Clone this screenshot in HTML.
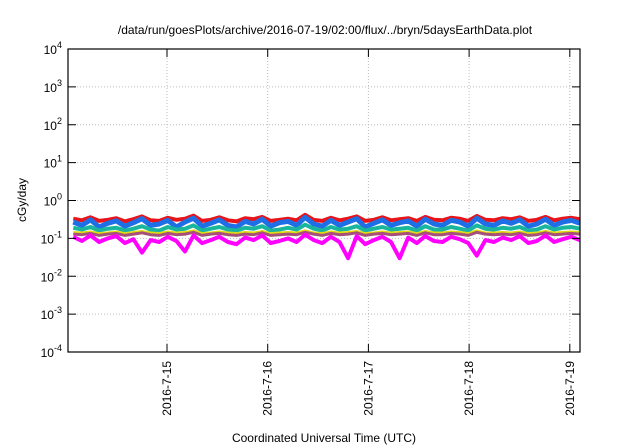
<!DOCTYPE html>
<html><head><meta charset="utf-8"><style>
body{margin:0;background:#fff;}
svg{display:block;font-family:"Liberation Sans",sans-serif;}
</style></head><body>
<svg id="chart" width="640" height="448" viewBox="0 0 640 448">
<rect width="640" height="448" fill="#fff"/>
<text x="325" y="34" font-size="12" text-anchor="middle">/data/run/goesPlots/archive/2016-07-19/02:00/flux/../bryn/5daysEarthData.plot</text>
<g id="grid"></g><g id="series"></g><g id="axes"></g>
<text transform="translate(26,200) rotate(-90)" font-size="12" text-anchor="middle">cGy/day</text>
<text x="324" y="442" font-size="12" text-anchor="middle">Coordinated Universal Time (UTC)</text>
</svg>
<script>
const xTicks=[15,16,17,18,19];
const xTickLabels=["2016-7-15","2016-7-16","2016-7-17","2016-7-18","2016-7-19"];
const yExps=[-4,-3,-2,-1,0,1,2,3,4];
const tStart=14.07, tEnd=19.1;
const red=[0.33,0.30,0.36,0.29,0.31,0.34,0.28,0.32,0.38,0.30,0.29,0.35,0.31,0.33,0.40,0.29,0.31,0.36,0.30,0.28,0.34,0.32,0.37,0.29,0.31,0.33,0.30,0.42,0.31,0.29,0.35,0.30,0.33,0.38,0.29,0.31,0.36,0.30,0.32,0.34,0.29,0.37,0.31,0.30,0.35,0.33,0.29,0.39,0.31,0.30,0.34,0.32,0.36,0.29,0.31,0.37,0.30,0.33,0.35,0.32];
const blue=[0.27,0.22,0.31,0.20,0.25,0.29,0.21,0.26,0.33,0.22,0.24,0.30,0.20,0.27,0.34,0.21,0.25,0.31,0.22,0.20,0.28,0.24,0.32,0.21,0.26,0.28,0.22,0.36,0.24,0.21,0.30,0.22,0.27,0.33,0.20,0.25,0.31,0.22,0.26,0.29,0.21,0.32,0.24,0.22,0.30,0.27,0.21,0.34,0.24,0.22,0.29,0.25,0.31,0.21,0.24,0.32,0.22,0.27,0.30,0.25];
const teal=[0.19,0.17,0.20,0.16,0.18,0.19,0.16,0.18,0.21,0.17,0.16,0.20,0.17,0.18,0.22,0.16,0.18,0.20,0.17,0.16,0.19,0.18,0.21,0.16,0.17,0.19,0.17,0.23,0.18,0.16,0.20,0.17,0.18,0.21,0.16,0.18,0.20,0.17,0.18,0.19,0.16,0.21,0.17,0.17,0.20,0.18,0.16,0.22,0.18,0.17,0.19,0.18,0.20,0.16,0.17,0.21,0.17,0.19,0.20,0.18];
const yellow=[0.145,0.14,0.15,0.135,0.14,0.15,0.135,0.145,0.155,0.14,0.135,0.15,0.14,0.145,0.16,0.135,0.14,0.15,0.14,0.135,0.145,0.14,0.155,0.135,0.14,0.145,0.14,0.16,0.14,0.135,0.15,0.14,0.145,0.155,0.135,0.14,0.15,0.14,0.145,0.15,0.135,0.155,0.14,0.14,0.15,0.145,0.135,0.16,0.14,0.14,0.145,0.14,0.15,0.135,0.14,0.155,0.14,0.145,0.15,0.145];
const purple=[0.13,0.125,0.135,0.12,0.13,0.135,0.12,0.13,0.14,0.125,0.12,0.135,0.125,0.13,0.145,0.12,0.13,0.135,0.125,0.12,0.13,0.125,0.14,0.12,0.125,0.13,0.125,0.145,0.13,0.12,0.135,0.125,0.13,0.14,0.12,0.13,0.135,0.125,0.13,0.135,0.12,0.14,0.125,0.125,0.135,0.13,0.12,0.145,0.13,0.125,0.13,0.125,0.135,0.12,0.125,0.14,0.125,0.13,0.135,0.13];
const magenta=[0.11,0.085,0.12,0.08,0.10,0.115,0.075,0.095,0.042,0.09,0.08,0.11,0.085,0.045,0.12,0.075,0.09,0.11,0.08,0.07,0.105,0.09,0.12,0.075,0.085,0.10,0.08,0.125,0.09,0.075,0.11,0.08,0.03,0.115,0.07,0.09,0.11,0.08,0.03,0.105,0.075,0.115,0.085,0.08,0.11,0.095,0.075,0.035,0.09,0.08,0.105,0.09,0.115,0.075,0.085,0.12,0.08,0.095,0.11,0.09];
const L=68,R=580,T=49,B=352;
const xs=t=>66.3+(t-14)*100.7;
const ys=v=>T+(4-Math.log10(v))*(B-T)/8;
const NS="http://www.w3.org/2000/svg";
function mk(tag,attrs,parent){const e=document.createElementNS(NS,tag);for(const k in attrs)e.setAttribute(k,attrs[k]);parent.appendChild(e);return e;}
const grid=document.getElementById('grid'),axes=document.getElementById('axes'),ser=document.getElementById('series');
yExps.forEach(p=>{const y=ys(Math.pow(10,p));
 if(p>-4&&p<4){const g=mk('line',{x1:L,x2:R,y1:y,y2:y,stroke:'#bbb','stroke-dasharray':'1,2'},grid);
 
 }
 mk('line',{x1:L,x2:L+8,y1:y,y2:y,stroke:'#000'},axes);mk('line',{x1:R,x2:R-8,y1:y,y2:y,stroke:'#000'},axes);
 const tx=mk('text',{x:L-6,y:y+5,'font-size':'12','text-anchor':'end'},axes);
 
 
 tx.innerHTML='10<tspan dy="-6" font-size="9">'+p+'</tspan>';
});
xTicks.forEach((t,i)=>{const x=xs(t);
 const g=mk('line',{x1:x,x2:x,y1:T,y2:B,stroke:'#bbb','stroke-dasharray':'1,2'},grid);
 
 
 mk('line',{x1:x,x2:x,y1:B,y2:B-8,stroke:'#000'},axes);mk('line',{x1:x,x2:x,y1:T,y2:T+8,stroke:'#000'},axes);
 const tx=mk('text',{transform:`translate(${x+4},${B+9}) rotate(-90)`,'font-size':'12','text-anchor':'end'},axes);
 
 
 tx.textContent=xTickLabels[i];
});
const fr=mk('rect',{x:L,y:T,width:R-L,height:B-T,fill:'none',stroke:'#000','stroke-width':'1.2'},axes);


const list=[[red,'#e8141a','series-red',4],[blue,'#1e6fe6','series-blue',5],[teal,'#19b59c','series-teal',4],[yellow,'#e0dc10','series-yellow',2.5],[purple,'#a65079','series-purple',3],[magenta,'#ff00ff','series-magenta',4]];
list.forEach(([d,c,n,w])=>{const n1=d.length-1;
 const pts=d.map((v,i)=>xs(tStart+(tEnd-tStart)*i/n1).toFixed(1)+','+ys(v).toFixed(1)).join(' ');
 const pl=mk('polyline',{points:pts,fill:'none',stroke:c,'stroke-width':w,'stroke-linejoin':'round'},ser);
 
 
});
</script>
</body></html>
